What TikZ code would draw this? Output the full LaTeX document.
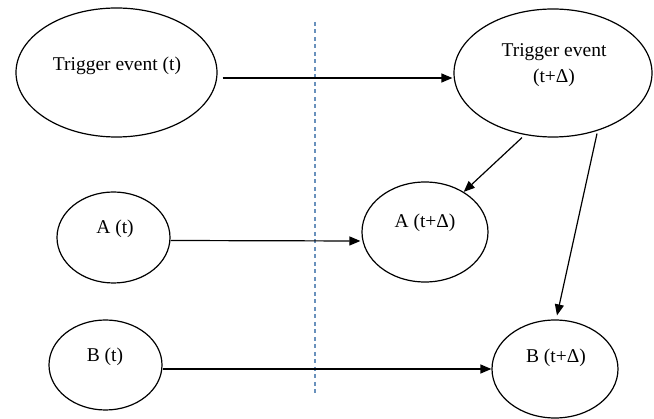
\documentclass[tikz,border=0pt]{standalone}
\usepackage{fontspec}
\setmainfont{Liberation Serif}
\usetikzlibrary{shapes.geometric,arrows.meta}
\definecolor{divider}{RGB}{105,145,188}
\begin{document}
\begin{tikzpicture}[x=1pt,y=-1pt,
  state/.style={draw=black,line width=1.2pt,ellipse,inner sep=0pt},
  lbl/.style={font=\fontsize{19.5}{26}\selectfont,inner sep=0pt,anchor=base,align=center},
  arr/.style={draw=black,line width=1.2pt,-{Triangle[length=11pt,width=9pt]}},
  sep/.style={draw=divider,line width=1.3pt,dash pattern=on 4pt off 3.5pt}]
\useasboundingbox (0,0) rectangle (654,419);

% time separator
\coordinate (dtop) at (315,22);
\coordinate (dbot) at (315,396);
\draw[sep] (dtop) -- (dbot);

% states at time t and t+Δ
\node[state,minimum width=201pt,minimum height=129pt] (te1) at (116.5,72.5) {};
\node[state,minimum width=198pt,minimum height=128pt] (te2) at (553,73) {};
\node[state,minimum width=113pt,minimum height=91pt] (a1) at (113.5,237.5) {};
\node[state,minimum width=126pt,minimum height=100pt] (a2) at (425,232) {};
\node[state,minimum width=113pt,minimum height=90pt] (b1) at (105.5,365) {};
\node[state,minimum width=126pt,minimum height=98pt] (b2) at (555,369) {};

% labels (base anchor of the two-line label sits on its last line)
\node[lbl] (tte1) at (117,71) {Trigger event (t)};
\node[lbl] (tte2) at (554,83) {Trigger event\\(t+Δ)};
\node[lbl] (ta1) at (115,234) {A (t)};
\node[lbl] (ta2) at (425,228) {A (t+Δ)};
\node[lbl] (tb1) at (105,362) {B (t)};
\node[lbl] (tb2) at (556,363) {B (t+Δ)};

% transitions
\draw[arr] ([shift={(5,5.5)}]te1.east) -- ([shift={(-1,5)}]te2.west);
\draw[arr] ([shift={(0,3)}]a1.east) -- ([shift={(-1,9)}]a2.west);
\draw[arr] ([shift={(0,4)}]b1.east) -- (b2.west);
\draw[arr] ([shift={(-31,0)}]te2.south) -- (a2.46.5);
\draw[arr] ([shift={(44,-4)}]te2.south) -- ([shift={(2,-4)}]b2.north);
\end{tikzpicture}
\end{document}
